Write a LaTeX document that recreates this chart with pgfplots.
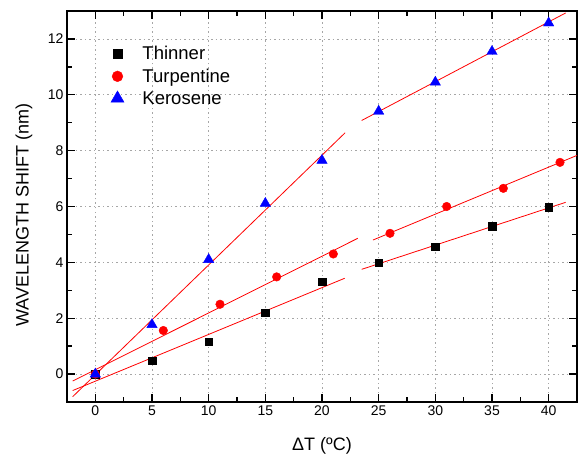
\documentclass[border=0pt]{standalone}
\usepackage{fontspec}
\setmainfont{Liberation Sans}
\usepackage{pgfplots}
\pgfplotsset{compat=1.18}

\begin{document}
\begin{tikzpicture}
\begin{axis}[
    scale only axis,
    width=510pt, height=391pt,
    xmin=-2.5, xmax=42.5,
    ymin=-1, ymax=13,
    xtick={0,5,...,40},
    ytick={0,2,...,12},
    minor x tick num=1,
    minor y tick num=1,
    xtick pos=both, ytick pos=both,
    tick align=inside,
    major tick length=8pt,
    minor tick length=5pt,
    axis line style={line width=1.5pt},
    every tick/.style={black, line width=1.3pt},
    grid=major,
    major grid style={gray!70, line width=0.8pt, dash pattern=on 1.5pt off 3pt},
    /pgf/number format/assume math mode=true,
    tick label style={font=\fontsize{14}{16}\selectfont},
    xlabel={ΔT (ºC)},
    ylabel={WAVELENGTH SHIFT (nm)},
    every axis x label/.style={at={(axis description cs:0.5,0)}, yshift=-44pt, anchor=center,
        font=\fontsize{18}{21}\selectfont},
    every axis y label/.style={at={(axis description cs:0,0.478)}, xshift=-43pt, rotate=90, anchor=center,
        font=\fontsize{18}{21}\selectfont},
    legend style={at={(0.08,0.92)}, anchor=north west, draw=none, fill=none,
        font=\fontsize{18.5}{22}\selectfont, row sep=3.5pt},
    legend cell align=left,
    legend image code/.code={\draw[#1, every mark/.append style={scale=1.25}] plot coordinates {(0cm,0cm)}; \path (-0.2cm,0cm) (0.8cm,0cm);},
]
% measured points
\addplot[only marks, mark=square*, mark size=3.7pt, mark options={fill=black, draw=black}]
    coordinates {(0,0) (5,0.48) (10,1.16) (15,2.2) (20,3.31) (25,3.99) (30,4.57) (35,5.29) (40,5.97)};
\addlegendentry{Thinner}
\addplot[only marks, mark=*, mark size=4.3pt, mark options={fill=red, draw=red}]
    coordinates {(0,0) (6,1.56) (11,2.5) (16,3.48) (21,4.3) (26,5.04) (31,6.0) (36,6.65) (41,7.58)};
\addlegendentry{Turpentine}
\addplot[only marks, mark=triangle*, mark size=6pt, mark options={fill=blue, draw=blue}]
    coordinates {(0,0) (5,1.77) (10,4.1) (15,6.11) (20,7.65) (25,9.41) (30,10.45) (35,11.55) (40,12.57)};
\addlegendentry{Kerosene}
% linear fits, two ranges each
\addplot[red, line width=0.8pt, forget plot] coordinates {(-2,-0.59) (22,3.43)};
\addplot[red, line width=0.8pt, forget plot] coordinates {(23.5,3.75) (41.5,6.15)};
\addplot[red, line width=0.8pt, forget plot] coordinates {(-2,-0.25) (23.15,4.86)};
\addplot[red, line width=0.8pt, forget plot] coordinates {(24.5,4.8) (42.5,7.83)};
\addplot[red, line width=0.8pt, forget plot] coordinates {(-2,-0.81) (22.04,8.64)};
\addplot[red, line width=0.8pt, forget plot] coordinates {(23.5,9.08) (41.5,12.93)};
\end{axis}
\path ([xshift=-67pt,yshift=-55pt]current axis.south west) rectangle ([xshift=4pt,yshift=11pt]current axis.north east);
\end{tikzpicture}
\end{document}
